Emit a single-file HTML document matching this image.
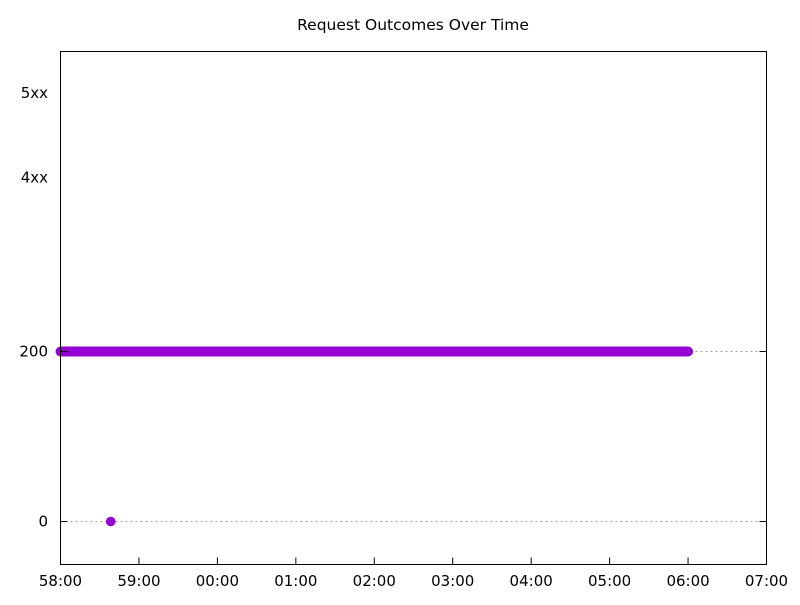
<!DOCTYPE html>
<html><head><meta charset="utf-8"><style>
body{margin:0;background:#fff;}
text{font-family:"DejaVu Sans","Liberation Sans",sans-serif;}
</style></head><body>
<svg id="chart" width="800" height="600" xmlns="http://www.w3.org/2000/svg">
<rect width="800" height="600" fill="#fff"/>
<text x="413" y="30" text-anchor="middle" font-size="15.5">Request Outcomes Over Time</text>
<g id="grid"></g>
<g id="marks"></g>
<rect x="60.5" y="51.5" width="706" height="513" fill="none" stroke="#000" stroke-width="1"/>
<g id="axes"></g>
</svg>
<script>
const xTickLabels = ["58:00","59:00","00:00","01:00","02:00","03:00","04:00","05:00","06:00","07:00"];
const yTickValues = [0, 200, 405, 504];
const yTickLabels = ["0", "200", "4xx", "5xx"];
const gridValues = [0, 200];
// 200-status run: start/end minutes after 58:00
const runStart = [0.0];
const runEnd = [8.0];
const runStatus = [200];
// isolated points: minutes after 58:00, status
const pointMinutes = [0.64];
const pointStatus = [0];

const X0=60.5, X1=766.5, Y0=564.5, Y1=51.5;
const xMin=0, xMax=9, yMin=-50.6, yMax=553;
const xs = v => X0 + (v - xMin) / (xMax - xMin) * (X1 - X0);
const ys = v => Y0 - (v - yMin) / (yMax - yMin) * (Y0 - Y1);
const NS="http://www.w3.org/2000/svg";
function mk(tag, attrs, parent){const e=document.createElementNS(NS,tag);for(const k in attrs)e.setAttribute(k,attrs[k]);parent.appendChild(e);return e;}
const grid=document.getElementById('grid'), marks=document.getElementById('marks'), axes=document.getElementById('axes');

gridValues.forEach(v=>{
  const g=mk('line',{x1:X0,x2:X1,y1:ys(v),y2:ys(v),stroke:'#a0a0a0','stroke-width':1,'stroke-dasharray':'2,3'},grid);
  
  
  const t1=mk('line',{x1:X0,x2:X0+7,y1:ys(v),y2:ys(v),stroke:'#000'},axes);
  
  
  const t2=mk('line',{x1:X1-7,x2:X1,y1:ys(v),y2:ys(v),stroke:'#000'},axes);
  
  
});
yTickValues.forEach((v,i)=>{
  const t=mk('text',{x:48,y:ys(v)+5,'text-anchor':'end','font-size':15},axes);
  t.textContent=yTickLabels[i];
  
  
});
xTickLabels.forEach((l,i)=>{
  const x=xs(i);
  if(i>0&&i<xTickLabels.length-1){
    const tk=mk('line',{x1:x,x2:x,y1:Y0,y2:Y0-7,stroke:'#000'},axes);
    
    
  }
  const t=mk('text',{x:x,y:586,'text-anchor':'middle','font-size':15},axes);
  t.textContent=l;
  
  
});
runStart.forEach((s,i)=>{
  const ln=mk('line',{x1:xs(s),x2:xs(runEnd[i]),y1:ys(runStatus[i]),y2:ys(runStatus[i]),stroke:'#9400d3','stroke-width':10,'stroke-linecap':'round'},marks);
  
  
});
pointMinutes.forEach((m,i)=>{
  const c=mk('circle',{cx:xs(m),cy:ys(pointStatus[i]),r:4.8,fill:'#9400d3'},marks);
  
  
});
</script>
</body></html>
